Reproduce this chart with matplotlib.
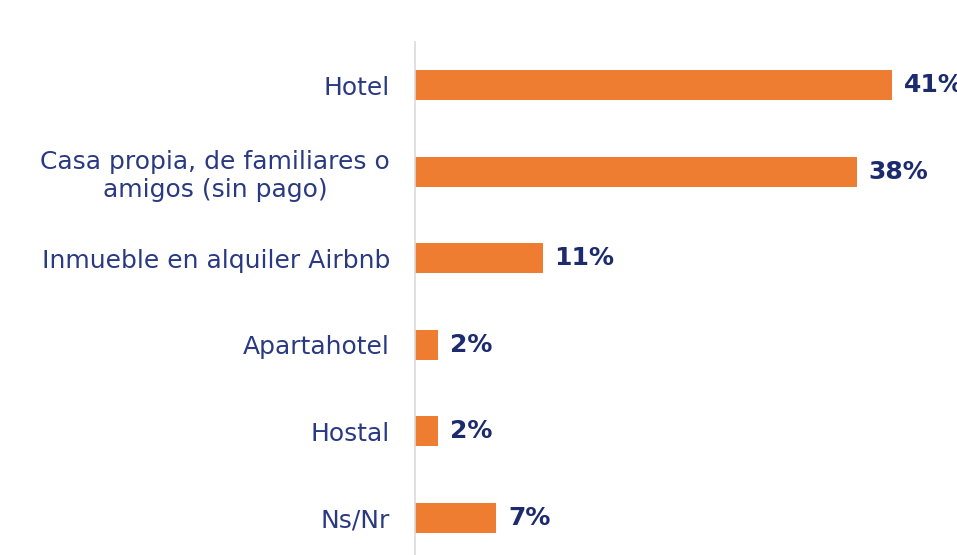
import matplotlib as mpl
mpl.use('agg')
import matplotlib.pyplot as plt
import numpy as np

categories = ["Hotel",
              "Casa propia, de familiares o\namigos (sin pago)",
              "Inmueble en alquiler Airbnb",
              "Apartahotel",
              "Hostal",
              "Ns/Nr"]
values = [41, 38, 11, 2, 2, 7]
labels = ["41%", "38%", "11%", "2%", "2%", "7%"]

plt.rc('font', family='DejaVu Sans')

fig = plt.figure(figsize=(9.57, 5.55), dpi=100)
ax = fig.add_axes([415 / 957, 0, (957 - 415) / 957, 513 / 555])

idx = np.arange(len(categories))
ax.barh(idx, values, height=0.35, color='#EE7D31')

for i, v in enumerate(values):
    ax.text(v + 1.0, i, labels[i], va='center', ha='left',
            fontsize=18, fontweight='bold', color='#1C2B6E', clip_on=False)

ax.set_yticks(idx)
ax.set_yticklabels(categories, fontsize=18, color='#2A3A82',
                   multialignment='center', linespacing=1.2)
ax.tick_params(axis='y', length=0, pad=18)
ax.set_xticks([])
ax.set_xlim(0, (957 - 415) / 11.63)
ax.set_ylim(5.43, -0.5)

for s in ['top', 'right', 'bottom']:
    ax.spines[s].set_visible(False)
ax.spines['left'].set_color('#DADADA')
ax.spines['left'].set_linewidth(1.2)

fig.savefig('out.png', dpi=100)
